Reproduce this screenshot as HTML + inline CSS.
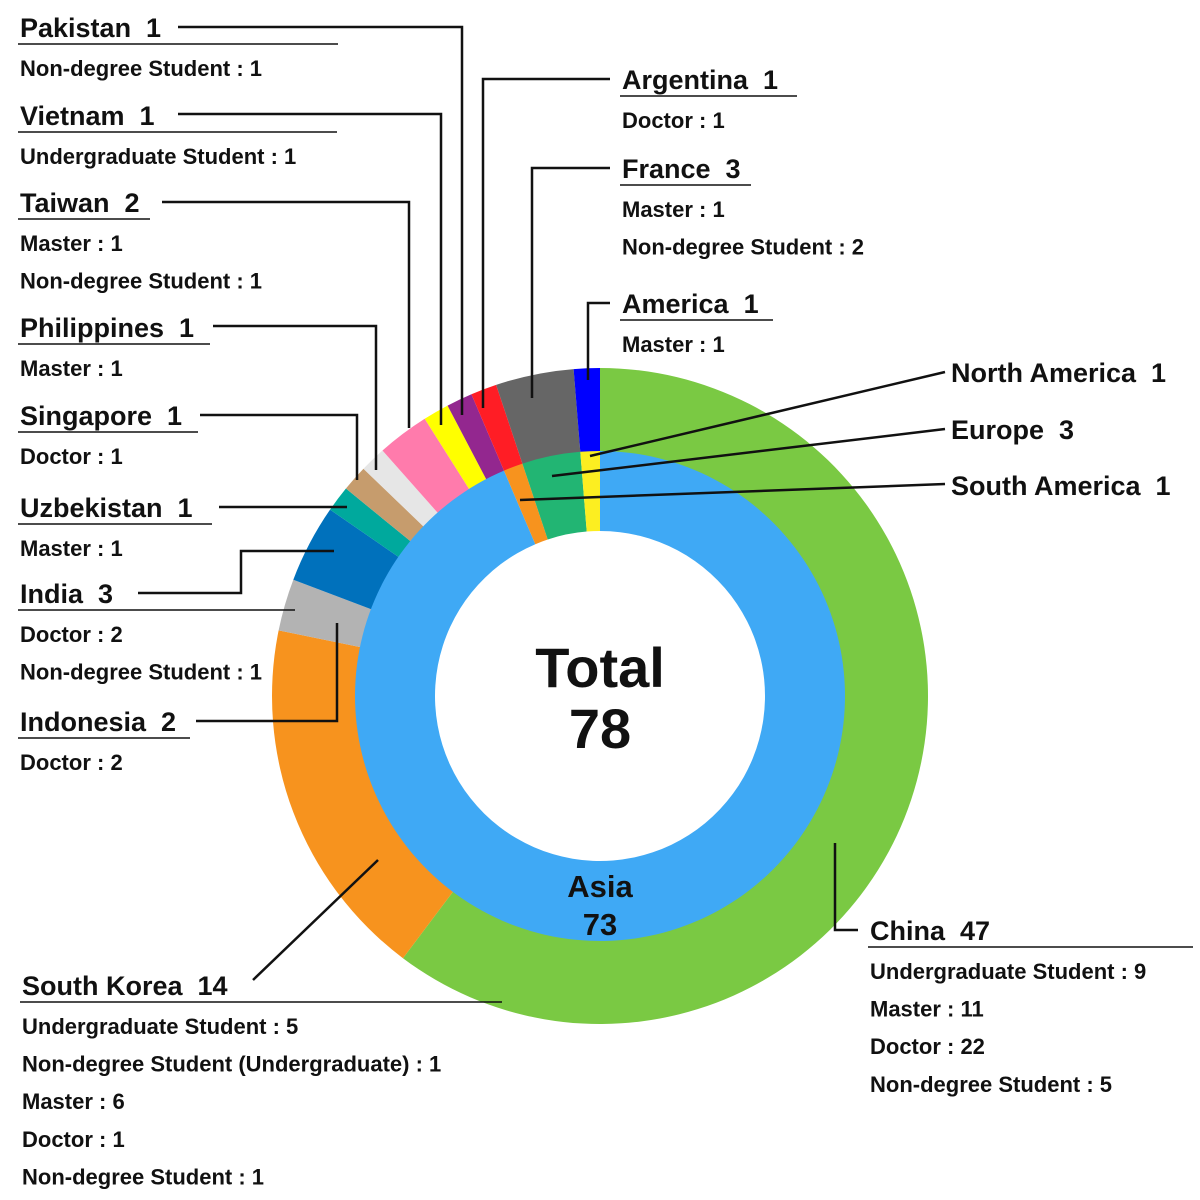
<!DOCTYPE html>
<html><head><meta charset="utf-8"><style>
body{margin:0;background:#fff}
svg{display:block}
text{font-family:"Liberation Sans",sans-serif;fill:#111}
.h{font-size:27px;font-weight:bold}
.s{font-size:22px;font-weight:bold}
</style></head><body>
<svg id="chart" width="1200" height="1200" viewBox="0 0 1200 1200" xmlns="http://www.w3.org/2000/svg">
<g id="outer"></g>
<g id="inner"></g>
<g id="leaders" stroke="#111" stroke-width="2.5" fill="none"></g>
<g id="labels"></g>
<text x="600" y="687" text-anchor="middle" style="font-size:56px;font-weight:bold">Total</text>
<text id="totalVal" x="600" y="748" text-anchor="middle" style="font-size:56px;font-weight:bold">78</text>
<text x="600" y="897" text-anchor="middle" style="font-size:31px;font-weight:bold">Asia</text>
<text id="asiaVal" x="600" y="935" text-anchor="middle" style="font-size:31px;font-weight:bold">73</text>
</svg>
<script>
const countries=["China","South Korea","Indonesia","India","Uzbekistan","Singapore","Philippines","Taiwan","Vietnam","Pakistan","Argentina","France","America"];
const countryValues=[47,14,2,3,1,1,1,2,1,1,1,3,1];
const countryColors=["#7ac943","#f7931e","#b3b3b3","#0071bc","#00a99d","#c69c6d","#e6e6e6","#ff7bac","#ffff00","#93278f","#ff1d25","#666666","#0000ff"];
const regions=["Asia","South America","Europe","North America"];
const regionValues=[73,1,3,1];
const regionColors=["#3fa9f5","#f7931e","#22b573","#fcee21"];
const details={
"China":["Undergraduate Student : 9","Master : 11","Doctor : 22","Non-degree Student : 5"],
"South Korea":["Undergraduate Student : 5","Non-degree Student (Undergraduate) : 1","Master : 6","Doctor : 1","Non-degree Student : 1"],
"Indonesia":["Doctor : 2"],"India":["Doctor : 2","Non-degree Student : 1"],"Uzbekistan":["Master : 1"],
"Singapore":["Doctor : 1"],"Philippines":["Master : 1"],"Taiwan":["Master : 1","Non-degree Student : 1"],
"Vietnam":["Undergraduate Student : 1"],"Pakistan":["Non-degree Student : 1"],"Argentina":["Doctor : 1"],
"France":["Master : 1","Non-degree Student : 2"],"America":["Master : 1"]};
const NS="http://www.w3.org/2000/svg";
const cx=600,cy=696;
function pt(a,r){return [cx+r*Math.sin(a),cy-r*Math.cos(a)];}
function arc(a0,a1,r0,r1){const p0=pt(a0,r1),p1=pt(a1,r1),p2=pt(a1,r0),p3=pt(a0,r0);const l=(a1-a0)>Math.PI?1:0;
return `M${p0[0]},${p0[1]}A${r1},${r1} 0 ${l} 1 ${p1[0]},${p1[1]}L${p2[0]},${p2[1]}A${r0},${r0} 0 ${l} 0 ${p3[0]},${p3[1]}Z`;}
function ring(g,names,vals,cols,r0,r1,nm){const tot=vals.reduce((a,b)=>a+b,0);let a=0;
vals.forEach((v,i)=>{const a1=a+v/tot*2*Math.PI;const p=document.createElementNS(NS,"path");
p.setAttribute("d",arc(a,a1,r0,r1));p.setAttribute("fill",cols[i]);


g.appendChild(p);a=a1;});}
ring(document.getElementById("outer"),countries,countryValues,countryColors,244,328,"slice");
ring(document.getElementById("inner"),regions,regionValues,regionColors,165,245,"slice");
document.getElementById("totalVal").textContent=countryValues.reduce((a,b)=>a+b,0);
document.getElementById("asiaVal").textContent=regionValues[0];
// label layout: [name, x, baseline, underlineEnd, leader points]
const layout={
"Pakistan":[20,37,338,[[178,27],[462,27],[462,415]]],
"Vietnam":[20,125,337,[[178,114],[441,114],[441,425]]],
"Taiwan":[20,212,150,[[162,202],[409,202],[409,428]]],
"Philippines":[20,337,210,[[213,326],[376,326],[376,470]]],
"Singapore":[20,425,198,[[200,415],[357,415],[357,480]]],
"Uzbekistan":[20,517,212,[[219,507],[347,507]]],
"India":[20,603,295,[[138,593],[241,593],[241,551],[334,551]]],
"Indonesia":[20,731,190,[[196,721],[337,721],[337,623]]],
"South Korea":[22,995,502,[[253,980],[378,860]]],
"China":[870,940,1193,[[858,930],[835,930],[835,843]]],
"Argentina":[622,89,797,[[610,79],[483,79],[483,408]]],
"France":[622,178,751,[[610,168],[532,168],[532,398]]],
"America":[622,313,773,[[610,303],[588,303],[588,380]]]};
const regionLayout={"North America":[951,382,[[945,372],[590,456]]],"Europe":[951,439,[[945,429],[552,476]]],"South America":[951,495,[[945,484],[520,500]]]};
const L=document.getElementById("labels"),LD=document.getElementById("leaders");
function txt(s,x,y,cls,nm){const t=document.createElementNS(NS,"text");t.setAttribute("x",x);t.setAttribute("y",y);t.setAttribute("class",cls);t.textContent=s;


L.appendChild(t);return t;}
function poly(pts,nm){const p=document.createElementNS(NS,"polyline");p.setAttribute("points",pts.map(q=>q.join(",")).join(" "));


LD.appendChild(p);}
countries.forEach((c,i)=>{const [x,y,ue,pts]=layout[c];const k=c.toLowerCase().replace(/ /g,'-');
txt(c+"\u00a0\u00a0"+countryValues[i],x,y,"h",k+'-label');
const u=document.createElementNS(NS,"line");u.setAttribute("x1",x-2);u.setAttribute("x2",ue);u.setAttribute("y1",y+7);u.setAttribute("y2",y+7);u.setAttribute("stroke","#111");u.setAttribute("stroke-width","1.6");


L.appendChild(u);
(details[c]||[]).forEach((d,j)=>txt(d,x,y+39+j*37.6,"s",k+'-detail'));
poly(pts,k+'-leader');});
regions.forEach((r,i)=>{if(!regionLayout[r])return;const [x,y,pts]=regionLayout[r];const k=r.toLowerCase().replace(/ /g,'-');
txt(r+"\u00a0\u00a0"+regionValues[i],x,y,"h",k+'-label');poly(pts,k+'-leader');});
</script>
</body></html>
